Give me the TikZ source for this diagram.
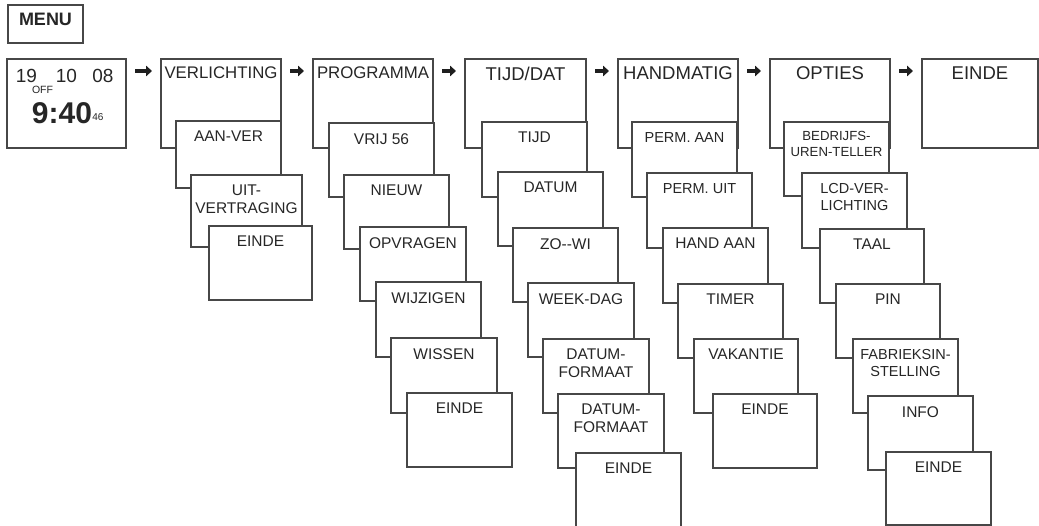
\documentclass[tikz,border=0pt]{standalone}
\usepackage{fontspec}
\setmainfont{Liberation Sans}
\usetikzlibrary{arrows.meta}
\newcommand\mbx[7][sub]{%
  \node[mbox, minimum width={#5pt-#3pt}, minimum height={#6pt-#4pt}, anchor=north west] (#2) at (#3,#4) {};
  \node[#1] (#2t) at ([yshift=\csname off#1\endcsname]#2.north) {#7};
}
\def\offsub{-10pt}
\def\offtop{-7.5pt}
\def\offsmall{-10pt}
\def\offtopn{-8pt}
\begin{document}
\begin{tikzpicture}[x=1pt,y=-1pt,
  mbox/.style={draw=black!72, fill=white, line width=1.1pt, inner sep=0pt, outer sep=0pt},
  sub/.style={anchor=north, inner sep=0pt, align=center, text=black!85, font=\fontsize{15.5}{17.5}\selectfont},
  small/.style={anchor=north, inner sep=0pt, align=center, text=black!85, font=\fontsize{14.5}{17.5}\selectfont},
  top/.style={anchor=north, inner sep=0pt, align=center, text=black!85, font=\fontsize{18.5}{20}\selectfont},
  topn/.style={anchor=north, inner sep=0pt, align=center, text=black!85, font=\fontsize{16.8}{20}\selectfont},
  flow/.style={draw=black!88, line width=4.5pt, -{Triangle[length=6pt,width=10.5pt]}},
  txt/.style={inner sep=0pt, text=black!85}
]
\useasboundingbox (0,0) rectangle (1039,526);
\clip (0,0) rectangle (1039,526);
% MENU
\node[mbox, minimum width=75pt, minimum height=38pt, anchor=north west] (menu) at (8,5) {};
\node[txt, font=\fontsize{18}{20}\selectfont\bfseries] (menut) at (45.5,19.5) {MENU};
% clock
\node[mbox, minimum width=119pt, minimum height=89pt, anchor=north west] (clock) at (7,59) {};
\node[txt, font=\fontsize{19}{20}\selectfont] (c19) at (26.5,76) {19};
\node[txt, font=\fontsize{19}{20}\selectfont] (c10) at (66.5,76) {10};
\node[txt, font=\fontsize{19}{20}\selectfont] (c08) at (103,76) {08};
\node[txt, font=\fontsize{10.5}{12}\selectfont] (coff) at (42.5,89.5) {OFF};
\node[txt, font=\fontsize{30}{32}\selectfont\bfseries] (ctime) at (62,113) {9:40};
\node[txt, font=\fontsize{10}{12}\selectfont] (csec) at (98,117) {46};
% top level
\mbx[topn]{verl}{161}{59}{281}{148}{VERLICHTING}
\mbx[topn]{prog}{313}{59}{433}{148}{PROGRAMMA}
\mbx[top]{tijd}{465}{59}{586}{148}{TIJD/DAT}
\mbx[top]{hand}{618}{59}{738}{148}{HANDMATIG}
\mbx[top]{opt}{770}{59}{890}{148}{OPTIES}
\mbx[top]{einde}{922}{59}{1038}{148}{EINDE}
% arrows
\foreach \a/\b in {clock/verl, verl/prog, prog/tijd, tijd/hand, hand/opt, opt/einde}{
  \draw[flow] ([xshift=9pt,yshift=-12pt]\a.north east) -- ([xshift=-9pt,yshift=-12pt]\b.north west);
}
% VERLICHTING column
\mbx{v1}{176}{121}{281}{188}{AAN-VER}
\mbx{v2}{191}{175}{302}{247}{UIT-\\VERTRAGING}
\mbx{v3}{209}{226}{312}{300}{EINDE}
% PROGRAMMA column
\mbx{p1}{329}{123}{434}{197}{VRIJ 56}
\mbx{p2}{344}{175}{449}{249}{NIEUW}
\mbx{p3}{360}{227}{466}{301}{OPVRAGEN}
\mbx{p4}{376}{282}{481}{357}{WIJZIGEN}
\mbx{p5}{391}{338}{497}{413}{WISSEN}
\mbx{p6}{407}{393}{512}{467}{EINDE}
% TIJD/DAT column
\mbx{t1}{482}{122}{587}{197}{TIJD}
\mbx{t2}{498}{172}{603}{246}{DATUM}
\mbx{t3}{513}{228}{618}{302}{ZO-{}-WI}
\mbx{t4}{528}{283}{634}{357}{WEEK-DAG}
\mbx{t5}{543}{339}{649}{413}{DATUM-\\FORMAAT}
\mbx{t6}{558}{394}{664}{468}{DATUM-\\FORMAAT}
\mbx{t7}{576}{453}{681}{535}{EINDE}
% HANDMATIG column
\mbx[small]{h1}{632}{122}{737}{197}{PERM. AAN}
\mbx[small]{h2}{647}{173}{752}{248}{PERM. UIT}
\mbx{h3}{663}{228}{768}{303}{HAND AAN}
\mbx{h4}{678}{284}{783}{358}{TIMER}
\mbx{h5}{694}{339}{798}{413}{VAKANTIE}
\mbx{h6}{713}{394}{817}{468}{EINDE}
% OPTIES column
\node[mbox, minimum width=105pt, minimum height=74pt, anchor=north west] (o1) at (784,122) {};
\node[anchor=north, inner sep=0pt, align=center, text=black!85, font=\fontsize{13.2}{15.5}\selectfont] (o1t) at ([yshift=-9.5pt]o1.north) {BEDRIJFS-\\UREN-TELLER};
\mbx[small]{o2}{802}{173}{907}{248}{LCD-VER-\\LICHTING}
\mbx{o3}{820}{229}{924}{303}{TAAL}
\mbx{o4}{836}{284}{940}{358}{PIN}
\mbx[small]{o5}{853}{339}{958}{413}{FABRIEKSIN-\\STELLING}
\mbx{o6}{868}{396}{973}{470}{INFO}
\mbx{o7}{886}{452}{991}{525}{EINDE}
\end{tikzpicture}
\end{document}
